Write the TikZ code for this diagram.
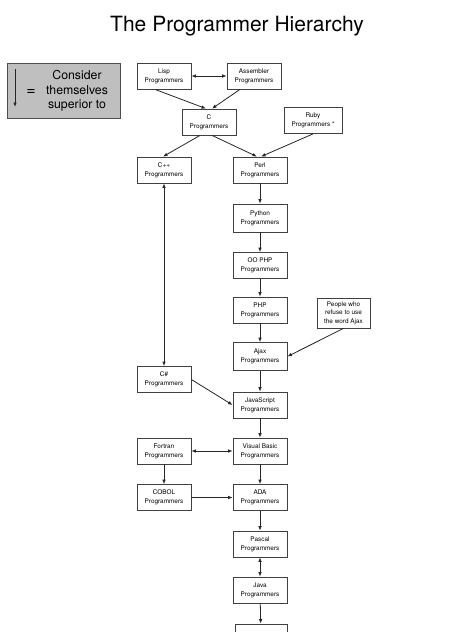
\documentclass[tikz,border=0pt]{standalone}
\usepackage{fontspec}
\setmainfont{TeX Gyre Heros}
\usetikzlibrary{arrows.meta}

\tikzset{
  prog/.style={draw=black!75,fill=white,line width=0.8pt,minimum width=54pt,
    minimum height=26pt,inner sep=1pt,align=center,
    font=\fontsize{6.4}{9}\selectfont},
  superior/.style={-{Latex[length=4.5pt,width=3.6pt]},line width=0.8pt,draw=black!85},
  mutual/.style={{Latex[length=4.5pt,width=3.6pt]}-{Latex[length=4.5pt,width=3.6pt]},line width=0.8pt,draw=black!85}
}

\begin{document}
\begin{tikzpicture}[x=1pt,y=-1pt]

  \clip (0,0) rectangle (474,632);
  \fill[white] (0,0) rectangle (474,632);

  \draw (237,26) node[font=\fontsize{21}{24}\selectfont] (title) {The Programmer Hierarchy};

  \draw (63.5,90.5) node[draw=black!70,fill=black!25,line width=0.8pt,
    minimum width=113pt,minimum height=55pt] (legend) {};
  \coordinate (ltop) at (15,69);
  \coordinate (lbot) at (15,107);
  \draw[superior] (ltop) -- (lbot);
  \draw (31,92) node[font=\fontsize{16}{16}\selectfont] (eq) {=};
  \draw (77,91) node[align=center,font=\fontsize{12.3}{14.3}\selectfont] (meaning)
    {Consider\\themselves\\superior to};

  \draw (164,76) node[prog] (lisp) {Lisp\\Programmers};
\draw (254,76) node[prog] (asm) {Assembler\\Programmers};
\draw (209,122) node[prog] (c) {C\\Programmers};
\draw (313,120.5) node[prog,minimum width=58pt] (ruby) {Ruby\\Programmers *};
\draw (164,170) node[prog] (cpp) {C++\\Programmers};
\draw (260,170) node[prog] (perl) {Perl\\Programmers};
\draw (260,218) node[prog,minimum height=28pt] (python) {Python\\Programmers};
\draw (260,265.5) node[prog] (oophp) {OO PHP\\Programmers};
\draw (260,310) node[prog] (php) {PHP\\Programmers};
\draw (343.5,313) node[prog,minimum width=53pt,minimum height=30pt,
    font=\fontsize{6.4}{8.5}\selectfont] (refuse) {People who\\refuse to use\\the word Ajax};
\draw (260,356.5) node[prog,minimum height=28pt] (ajax) {Ajax\\Programmers};
\draw (164,379.5) node[prog] (csharp) {C\#\\Programmers};
\draw (260,405) node[prog] (js) {JavaScript\\Programmers};
\draw (164,451) node[prog] (fortran) {Fortran\\Programmers};
\draw (260,451) node[prog] (vb) {Visual Basic\\Programmers};
\draw (164,497.5) node[prog] (cobol) {COBOL\\Programmers};
\draw (260,497.5) node[prog] (ada) {ADA\\Programmers};
\draw (260,544) node[prog] (pascal) {Pascal\\Programmers};
\draw (260,590) node[prog] (java) {Java\\Programmers};
\draw (261,637) node[prog,minimum width=52pt] (next) {};


  \draw[mutual] (lisp) -- (asm);
  \draw[superior] ([xshift=-9pt]lisp.south) -- ([xshift=-3pt]c.north);
  \draw[superior] ([xshift=-14pt]asm.south) -- ([xshift=3pt]c.north);
  \draw[superior] ([xshift=-9pt]c.south) -- ([xshift=-1pt]cpp.north);
  \draw[superior] ([xshift=3pt]c.south) -- ([xshift=-3pt]perl.north);
  \draw[superior] (ruby.south) -- ([xshift=1pt]perl.north);
  \draw[mutual] (cpp) -- (csharp);

  \draw[superior] (perl) -- (python);
  \draw[superior] (python) -- (oophp);
  \draw[superior] (oophp) -- (php);
  \draw[superior] (php) -- (ajax);
  \draw[superior] (refuse.south) -- (ajax.east);
  \draw[superior] (ajax) -- (js);
  \draw[superior] (csharp.east) -- (js.west);
  \draw[superior] (js) -- (vb);

  \draw[mutual] (fortran) -- (vb);
  \draw[superior] (fortran) -- (cobol);
  \draw[superior] (cobol) -- (ada);
  \draw[superior] (vb) -- (ada);
  \draw[superior] (ada) -- (pascal);
  \draw[mutual] (pascal) -- (java);
  \draw[superior] (java) -- (next);

\end{tikzpicture}
\end{document}
